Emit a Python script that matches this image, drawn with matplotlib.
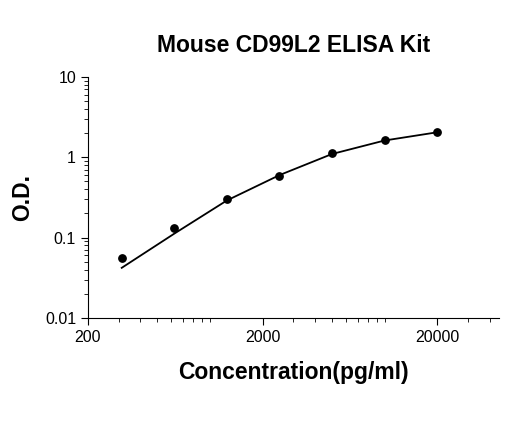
import matplotlib
matplotlib.use('Agg')
import matplotlib.pyplot as plt
from matplotlib.ticker import FixedLocator, FixedFormatter, LogLocator, NullFormatter

# standards and measured OD
conc = [312.5, 625, 1250, 2500, 5000, 10000, 20000]
od = [0.056, 0.133, 0.30, 0.58, 1.12, 1.63, 2.05]
# fitted curve
fit_od = [0.042, 0.112, 0.29, 0.60, 1.10, 1.62, 2.05]

plt.rcParams['font.family'] = ['Liberation Sans', 'DejaVu Sans']

fig = plt.figure(figsize=(5.2, 4.21), dpi=100)
ax = fig.add_axes([0.169, 0.245, 0.79, 0.572])

ax.plot(conc, fit_od, color='black', linewidth=1.3)
ax.scatter(conc, od, color='black', s=28, zorder=3)

ax.set_xscale('log')
ax.set_yscale('log')
ax.set_xlim(200, 45000)
ax.set_ylim(0.01, 10)

ax.xaxis.set_major_locator(FixedLocator([200, 2000, 20000]))
ax.xaxis.set_major_formatter(FixedFormatter(['200', '2000', '20000']))
ax.xaxis.set_minor_locator(LogLocator(base=10, subs=range(1, 10), numticks=20))
ax.xaxis.set_minor_formatter(NullFormatter())
ax.yaxis.set_major_locator(FixedLocator([0.01, 0.1, 1, 10]))
ax.yaxis.set_major_formatter(FixedFormatter(['0.01', '0.1', '1', '10']))

ax.tick_params(axis='both', which='major', labelsize=11.5, direction='out', length=5)
ax.tick_params(axis='both', which='minor', direction='out', length=3)
ax.spines['top'].set_visible(False)
ax.spines['right'].set_visible(False)

ax.set_title('Mouse CD99L2 ELISA Kit', fontsize=16.5, fontweight='bold', pad=18)
ax.set_xlabel('Concentration(pg/ml)', fontsize=16.5, fontweight='bold', labelpad=12)
ax.set_ylabel('O.D.', fontsize=16.5, fontweight='bold', labelpad=8)

fig.savefig('out.png', dpi=100)
